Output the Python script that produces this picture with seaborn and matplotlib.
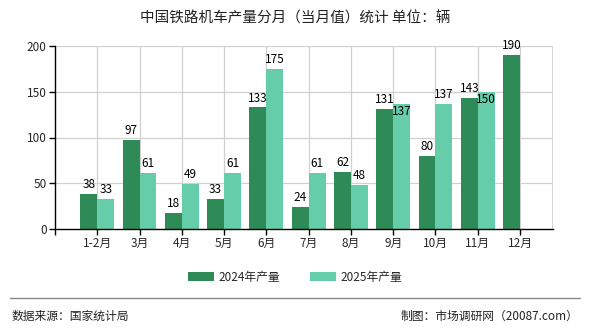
import matplotlib
matplotlib.use("Agg")
import matplotlib.pyplot as plt
import seaborn as sns
import pandas as pd
import numpy as np

months = ["1-2月", "3月", "4月", "5月", "6月", "7月", "8月", "9月", "10月", "11月", "12月"]
prod_2024 = [38, 97, 18, 33, 133, 24, 62, 131, 80, 143, 190]
prod_2025 = [33, 61, 49, 61, 175, 61, 48, 137, 137, 150, np.nan]
series_names = ["2024年产量", "2025年产量"]
colors = ["#2e8b57", "#66cdaa"]
title = "中国铁路机车产量分月（当月值）统计 单位：辆"

sns.set_theme(style="white")
plt.rcParams["font.family"] = ["Noto Sans CJK SC", "DejaVu Sans"]

df = pd.DataFrame({
    "month": months * 2,
    "value": prod_2024 + prod_2025,
    "series": [series_names[0]] * len(months) + [series_names[1]] * len(months),
})

fig = plt.figure(figsize=(5.9, 3.3), dpi=100)
ax = fig.add_axes([55 / 590, 1 - 229 / 330, (553 - 55) / 590, (229 - 46) / 330])

sns.barplot(data=df, x="month", y="value", hue="series", palette=colors,
            width=0.8, saturation=1, ax=ax, legend=True, zorder=3,
            linewidth=0, edgecolor="none")

ax.set_xlim(-1, 10.78)
ax.set_ylim(0, 200)
ax.set_yticks([0, 50, 100, 150, 200])
ax.set_xticks(range(len(months)))
ax.set_xticklabels(months)
ax.set_xticks([-1], minor=True)
ax.set_xlabel("")
ax.set_ylabel("")

# grid
for yv in [50, 100, 150, 200]:
    ax.axhline(yv, color="#d0d0d0", lw=0.9, zorder=0)
for xv in range(len(months)):
    ax.axvline(xv, color="#d0d0d0", lw=0.9, zorder=0)
ax.axvline(10.78, color="#d0d0d0", lw=1.2, zorder=0)

for s in ["top", "right"]:
    ax.spines[s].set_visible(False)
for s in ["left", "bottom"]:
    ax.spines[s].set_color("black")
    ax.spines[s].set_linewidth(1.0)
    ax.spines[s].set_zorder(4)

ax.tick_params(axis="both", which="both", direction="out", length=4, width=1,
               color="black", labelsize=8.5, pad=2, bottom=True, left=True)

# value labels
nudged_down = {(1, 7), (1, 9)}
for si, cont in enumerate(ax.containers):
    vals = prod_2024 if si == 0 else prod_2025
    for ci, bar in enumerate(cont):
        v = vals[ci]
        if isinstance(v, float) and np.isnan(v):
            continue
        h = bar.get_height()
        xc = bar.get_x() + bar.get_width() / 2
        if (si, ci) in nudged_down:
            ax.annotate(f"{int(v)}", (xc, h), xytext=(0, -1), textcoords="offset points",
                        ha="center", va="top", fontsize=8.5, color="black", zorder=5)
        else:
            ax.annotate(f"{int(v)}", (xc, h), xytext=(0, 2), textcoords="offset points",
                        ha="center", va="bottom", fontsize=8.5, color="black", zorder=5)

# legend
leg = ax.legend(handles=ax.get_legend_handles_labels()[0], labels=series_names,
                loc="center", bbox_to_anchor=(295 / 590, 1 - 277 / 330),
                bbox_transform=fig.transFigure, ncol=2, frameon=False,
                fontsize=8.5, handlelength=2.2, handleheight=0.9, columnspacing=2.5,
                handletextpad=0.4)

fig.text(0.5, 1 - 18 / 330, title, ha="center", va="center", fontsize=10.5, color="#222222")

# separator and footer
fig.add_artist(plt.Line2D([10 / 590, 580 / 590], [1 - 298 / 330, 1 - 298 / 330],
                          color="#888888", lw=1.0, transform=fig.transFigure))
fig.text(12 / 590, 1 - 316 / 330, "数据来源：国家统计局", ha="left", va="center", fontsize=8.5, color="#222222")
fig.text(578 / 590, 1 - 316 / 330, "制图：市场调研网（20087.com）", ha="right", va="center", fontsize=8.5, color="#222222")

fig.savefig("out.png", dpi=100)
